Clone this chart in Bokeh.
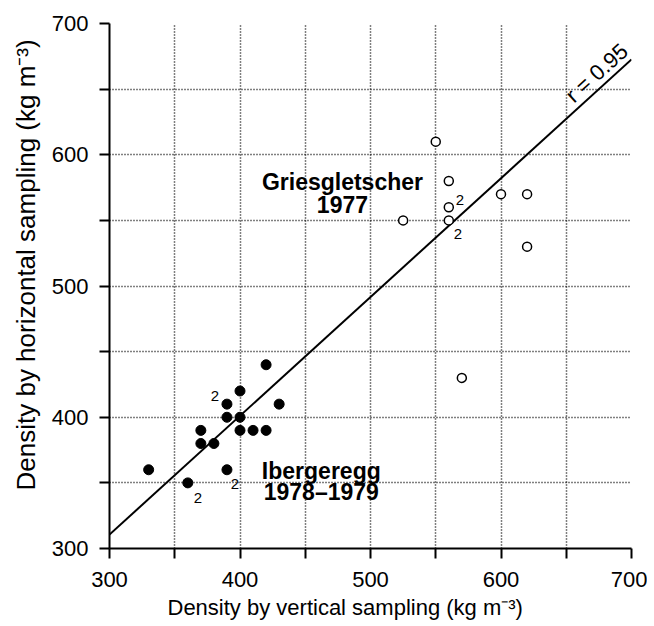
from bokeh.plotting import figure
from bokeh.models import Range1d, FixedTicker, Title
from bokeh.core.properties import value
from bokeh.embed import file_html
from bokeh.resources import INLINE
import math

# Ibergeregg 1978-1979 (closed circles)
ib_x = [330, 360, 390, 370, 370, 380, 390, 390, 400, 400, 400, 410, 420, 420, 430]
ib_y = [360, 350, 360, 390, 380, 380, 400, 410, 420, 400, 390, 390, 390, 440, 410]
# Griesgletscher 1977 (open circles)
gr_x = [550, 560, 560, 560, 525, 600, 620, 620, 570]
gr_y = [610, 580, 560, 550, 550, 570, 570, 530, 430]
# points standing for two samples
dup_x = [360, 390, 390, 560, 560]
dup_y = [350, 360, 410, 560, 550]
dup_n = ["2", "2", "2", "2", "2"]
# regression line
fit_intercept = 39.1
fit_slope = 0.905
fit_r = "r = 0.95"
axis_ticks = [300, 350, 400, 450, 500, 550, 600, 650, 700]
axis_tick_labels = ["300", "", "400", "", "500", "", "600", "", "700"]
x_title = "Density by vertical sampling (kg m\u207b\u00b3)"
y_title = "Density by horizontal sampling (kg m\u207b\u00b3)"

FONT = "Liberation Sans"

p = figure(frame_width=522, frame_height=525, output_backend="svg", toolbar_location=None,
           x_range=Range1d(300, 700), y_range=Range1d(300, 700),
           min_border_left=108, min_border_right=16, min_border_top=23,
           min_border_bottom=76)
p.outline_line_color = None
p.background_fill_color = "white"
p.border_fill_color = "white"

overrides = {t: l for t, l in zip(axis_ticks, axis_tick_labels)}
for ax in (p.xaxis[0], p.yaxis[0]):
    ax.ticker = FixedTicker(ticks=axis_ticks)
    ax.major_label_overrides = overrides
    ax.axis_line_width = 2
    ax.axis_line_color = "black"
    ax.major_tick_line_width = 2
    ax.major_tick_line_color = "black"
    ax.major_tick_out = 10
    ax.major_tick_in = 0
    ax.minor_tick_line_color = None
    ax.major_label_text_font = FONT
    ax.major_label_text_font_size = "22px"
    ax.major_label_text_color = "black"

p.xaxis.major_label_standoff = 13
p.yaxis.major_label_standoff = 11

for g in (p.xgrid[0], p.ygrid[0]):
    g.ticker = FixedTicker(ticks=axis_ticks)
    g.grid_line_color = "black"
    g.grid_line_dash = "1 2"
    g.grid_line_width = 1.5

# axis titles as side titles, offset along the axis as in the original
p.add_layout(Title(text=x_title, align="left", offset=58, standoff=6,
                   text_font=FONT, text_font_size="22px", text_font_style="normal",
                   text_color="black"), "below")
p.add_layout(Title(text=y_title, align="left", offset=58, standoff=16,
                   text_font=FONT, text_font_size="26px", text_font_style="normal",
                   text_color="black"), "left")

fit_x = [300, 700]
fit_y = [fit_intercept + fit_slope * x for x in fit_x]
p.line(fit_x, fit_y, line_color="black", line_width=2)

p.scatter(ib_x, ib_y, size=10, marker="circle", fill_color="black", line_color="black")
p.scatter(gr_x, gr_y, size=9, marker="circle", fill_color="white", line_color="black",
          line_width=1.5)

dup_dx = [10, 8, -12, 11, 9]
dup_dy = [15, 14, -8, -7, 14]
p.text(x=dup_x, y=dup_y, text=dup_n, x_offset=dup_dx, y_offset=dup_dy,
       text_font=value(FONT), text_font_size="15px", text_align="center",
       text_baseline="middle", text_color="black")

ann_x = [478.5, 478.5, 462.3, 462.3]
ann_y = [579.5, 562.3, 359.4, 343.0]
ann_t = ["Griesgletscher", "1977", "Ibergeregg", "1978\u20131979"]
p.text(x=ann_x, y=ann_y, text=ann_t, text_font=value(FONT), text_font_size="23px",
       text_font_style="bold", text_align="center", text_baseline="alphabetic",
       text_color="black")

ang = math.atan(fit_slope * (525 / 400) / (522 / 400))
p.text(x=[652], y=[643], text=[fit_r], angle=ang, text_font=value(FONT),
       text_font_size="22px", text_align="left", text_baseline="alphabetic",
       text_color="black")

open("out.html", "w").write(file_html(p, INLINE))
